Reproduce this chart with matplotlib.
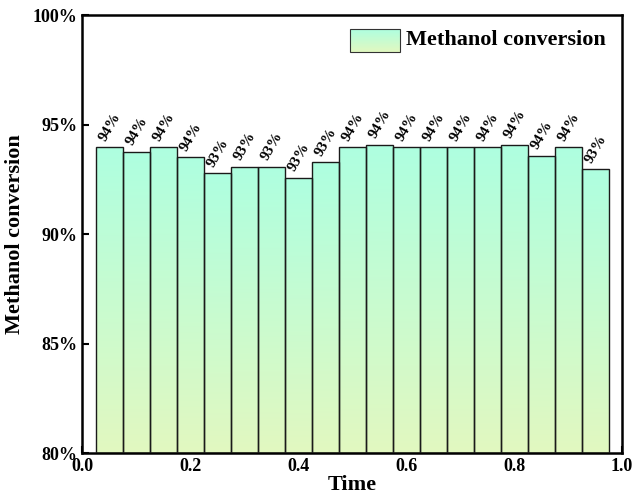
import matplotlib
matplotlib.use("Agg")
import matplotlib.pyplot as plt
import numpy as np
from matplotlib.patches import Rectangle
from matplotlib.colors import LinearSegmentedColormap

plt.rc("font", family=["Liberation Serif", "DejaVu Serif"], weight="bold")
plt.rc("xtick", direction="in", labelsize=13)
plt.rc("ytick", direction="in", labelsize=13)

time = [0.05, 0.10, 0.15, 0.20, 0.25, 0.30, 0.35, 0.40, 0.45, 0.50,
        0.55, 0.60, 0.65, 0.70, 0.75, 0.80, 0.85, 0.90, 0.95]
conversion = [93.97, 93.76, 93.98, 93.52, 92.77, 93.07, 93.07, 92.57, 93.27, 93.98,
              94.08, 93.98, 93.98, 93.98, 93.98, 94.08, 93.58, 93.98, 92.97]
bar_width = 0.05
y_base = 80

cmap = LinearSegmentedColormap.from_list("grad", ["#e2f8c0", "#aeffe0"])
grad = np.linspace(0, 1, 256).reshape(-1, 1)


def gradient_bar(ax, x, h):
    x0 = x - bar_width / 2
    rect = Rectangle((x0, y_base), bar_width, h - y_base, facecolor="none",
                     edgecolor="#1a1a1a", linewidth=1.0, zorder=3)
    ax.add_patch(rect)
    im = ax.imshow(grad, cmap=cmap, aspect="auto", origin="lower",
                   extent=[x0, x0 + bar_width, y_base, h], zorder=2)
    im.set_clip_path(rect)


fig = plt.figure(figsize=(6.36, 5.04), dpi=100)
ax = fig.add_axes([0.129, 0.101, 0.849, 0.869])

for x, h in zip(time, conversion):
    gradient_bar(ax, x, h)
    ax.text(x - 0.001, h + 0.18, f"{int(round(h))}%", rotation=60,
            ha="left", va="bottom", fontsize=11, fontweight="bold",
            rotation_mode="anchor")

ax.set_xlim(0, 1)
ax.set_ylim(80, 100)
ax.set_xticks([0.0, 0.2, 0.4, 0.6, 0.8, 1.0])
ax.set_xticklabels(["0.0", "0.2", "0.4", "0.6", "0.8", "1.0"])
ax.set_yticks([80, 85, 90, 95, 100])
ax.set_yticklabels(["80%", "85%", "90%", "95%", "100%"])
ax.tick_params(length=5, width=1.5)
for s in ax.spines.values():
    s.set_linewidth(1.8)

ax.set_xlabel("Time", fontsize=16, fontweight="bold", labelpad=0)
ax.set_ylabel("Methanol conversion", fontsize=16, fontweight="bold", labelpad=5)

# legend drawn by hand so the patch can carry the gradient
lx0, lx1, ly0, ly1 = 0.496, 0.589, 0.916, 0.968
leg_rect = Rectangle((lx0, ly0), lx1 - lx0, ly1 - ly0, transform=ax.transAxes,
                     facecolor="none", edgecolor="#333333", linewidth=0.8, zorder=5)
ax.add_patch(leg_rect)
leg_im = ax.imshow(grad, cmap=cmap, aspect="auto", origin="lower",
                   extent=[lx0, lx1, ly0, ly1], transform=ax.transAxes, zorder=4)
leg_im.set_clip_path(leg_rect)
ax.text(0.600, 0.943, "Methanol conversion", transform=ax.transAxes,
        fontsize=16, fontweight="bold", va="center", ha="left")

fig.savefig("out.png", dpi=100)
